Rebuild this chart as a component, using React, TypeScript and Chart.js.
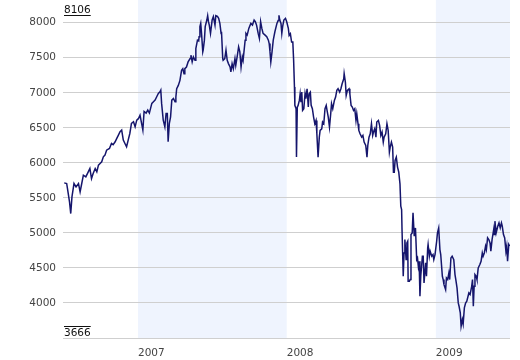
import React, { useEffect, useRef } from 'react';
import { Chart, registerables } from 'chart.js';

Chart.register(...registerables);

// Days counted from 2006-07-01
const days = [
  3, 9, 11, 16, 19, 22, 27, 32, 38, 42, 46, 50, 56, 62, 66, 70, 74, 79, 83, 87, 91, 95, 99, 103, 107, 114, 119, 123, 128, 132, 136, 140, 144, 148, 152, 156, 160, 164, 168, 173, 177, 181, 185, 189, 193, 196, 199, 204, 208, 212, 218, 222, 226, 230, 234, 238, 240, 242, 246, 250, 253, 256, 258, 261, 264, 267, 271, 275,
  277, 279, 283, 287, 291, 294, 297, 299, 303, 307, 312, 314, 317, 320, 324, 326, 330, 333, 334, 336, 338, 340, 343, 344, 347, 349, 353, 355, 357, 359, 362, 366, 369, 373, 375, 379, 382, 385, 388, 389, 392, 393, 397, 400, 403, 406, 410, 412, 415, 418, 422, 424, 428, 431, 434, 437, 440, 442, 447, 449, 452, 456, 461, 465, 469, 472, 475, 479, 482, 485, 488, 491, 496, 500, 504, 506, 508, 510, 513, 516, 520, 525, 528, 530, 532, 535, 537, 539, 542, 546, 549, 553,
  555, 558, 561, 564, 566, 568, 569, 572, 573, 575, 577, 580, 582, 584, 586, 588, 591, 594, 596, 599, 602, 604, 607, 609, 612, 615, 618, 621, 623, 626, 629, 631, 635, 637, 640, 643, 646, 648, 651, 654, 657, 659, 662, 666, 669, 672, 675, 679, 682, 685, 689, 690, 693, 695, 698, 702, 704, 707, 710, 713, 716, 719, 721, 724, 726, 729, 733, 736, 739, 743, 746, 748, 751, 754, 757, 760, 762, 765, 768, 770, 774, 777, 780, 783, 786, 788, 792, 795, 798, 801, 803, 806, 809, 811, 813, 815, 818, 821, 824,
  827, 829, 831, 832, 835, 837, 839, 842, 844, 846, 847, 850, 852, 854, 857, 859, 862, 865, 868, 870, 872, 874, 876, 878, 882, 884, 886, 890, 892, 895, 896, 899, 901, 905, 908, 910, 913, 917, 919, 922, 925, 927, 931, 933, 935, 939, 941, 944, 947, 949, 952, 955, 959, 962, 964, 967, 970, 972, 975, 977, 980, 982, 985, 988, 991, 996, 999, 1003, 1005, 1007, 1009, 1011, 1014, 1016, 1019, 1023, 1026, 1029, 1031, 1034, 1037, 1039, 1042, 1045, 1048, 1050, 1053, 1057, 1058, 1060, 1063, 1067, 1070, 1073, 1076, 1078, 1081, 1084, 1087, 1089, 1091, 1094, 1096,
];

const closes = [
  5714, 5705, 5633, 5443, 5276, 5514, 5705, 5657, 5705, 5586, 5705, 5824, 5800, 5871, 5919, 5776, 5848, 5919, 5871, 5967, 5990, 6014, 6086, 6110, 6181, 6205, 6276, 6260, 6300, 6348, 6395, 6443, 6467, 6324, 6276, 6229, 6324, 6419, 6562, 6586, 6514, 6610, 6630, 6681, 6560, 6467, 6733, 6710, 6752, 6710, 6848, 6871, 6895, 6943, 6990, 7014, 7038, 6848, 6610, 6514, 6705, 6705, 6300, 6562, 6657, 6895, 6919, 6871,
  6938, 7057, 7105, 7177, 7321, 7344, 7273, 7344, 7368, 7440, 7488, 7536, 7440, 7512, 7464, 7632, 7751, 7740, 7799, 7943, 7990, 7847, 7584, 7610, 7751, 7943, 8038, 8100, 8014, 7966, 7847, 8038, 8086, 7966, 8100, 8090, 8062, 7990, 7847, 7870, 7488, 7464, 7488, 7608, 7464, 7416, 7368, 7297, 7416, 7344, 7488, 7392, 7536, 7655, 7584, 7368, 7512, 7464, 7751, 7847, 7823, 7919, 7990, 7966, 8038, 8014, 7966, 7847, 7775, 8014, 7919, 7847, 7823, 7799, 7751, 7703, 7584, 7440, 7584, 7751, 7871, 7990, 8030, 8106, 8038, 7990, 7847, 7943, 8038, 8062, 8014, 7919,
  7819, 7843, 7724, 7724, 7462, 7081, 6820, 6772, 6082, 6796, 6820, 6891, 6986, 6867, 7010, 6748, 6772, 6986, 6915, 7057, 6796, 6986, 7010, 6820, 6772, 6653, 6558, 6605, 6415, 6082, 6367, 6463, 6486, 6582, 6558, 6772, 6820, 6748, 6653, 6510, 6701, 6843, 6772, 6891, 6938, 7034, 7057, 7010, 7057, 7129, 7200, 7272, 7153, 6962, 7034, 7057, 6986, 6820, 6796, 6748, 6772, 6605, 6701, 6558, 6463, 6415, 6367, 6391, 6296, 6248, 6082, 6248, 6367, 6415, 6558, 6391, 6439, 6486, 6367, 6582, 6605, 6534, 6391, 6439, 6296, 6367, 6415, 6558, 6463, 6153, 6225, 6296, 6225, 5867, 5867, 6034, 6082, 5939, 5867,
  5700, 5381, 5333, 5048, 4381, 4714, 4905, 4619, 4857, 4881, 4310, 4310, 4334, 4976, 5000, 5286, 4952, 5071, 4619, 4643, 4524, 4595, 4096, 4381, 4667, 4667, 4286, 4572, 4381, 4786, 4834, 4667, 4738, 4667, 4690, 4619, 4690, 4881, 5000, 5071, 4762, 4691, 4381, 4334, 4262, 4191, 4357, 4334, 4429, 4334, 4643, 4667, 4619, 4405, 4334, 4215, 4001, 3953, 3858, 3666, 3762, 3700, 3930, 4000, 4025, 4143, 4120, 4238, 4334, 3953, 4238, 4405, 4381, 4334, 4500, 4548, 4595, 4714, 4667, 4714, 4810, 4762, 4929, 4905, 4857, 4738, 4905, 5048, 4976, 5167, 5000, 5095, 5143, 5071, 5143, 5095, 4976, 4929, 4738, 4810, 4595, 4834, 4810,
];

// Year boundaries (days from 2006-07-01) and labels
const yearStarts = [184, 549, 915];
const yearLabels = ['2007', '2008', '2009'];
const yTickValues = [3500, 4000, 4500, 5000, 5500, 6000, 6500, 7000, 7500, 8000];

const FONT = 'DejaVu Sans';

const bandPlugin = {
  id: 'yearBands',
  beforeDraw(chart: any) {
    const { ctx, chartArea, scales } = chart;
    const x = scales.x;
    ctx.save();
    ctx.fillStyle = '#eff4fe';
    yearStarts.forEach((s, i) => {
      if (i % 2 !== 0) return;
      const e = i + 1 < yearStarts.length ? yearStarts[i + 1] : x.max;
      const x0 = x.getPixelForValue(s);
      const x1 = x.getPixelForValue(e);
      ctx.fillRect(x0, chartArea.top, x1 - x0, chartArea.bottom - chartArea.top);
    });
    ctx.restore();
  },
};

const extremesPlugin = {
  id: 'extremes',
  afterDraw(chart: any) {
    const { ctx, chartArea, scales } = chart;
    const y = scales.y;
    const maxV = Math.max(...closes);
    const minV = Math.min(...closes);
    ctx.save();
    ctx.font = `10.5px "${FONT}"`;
    ctx.fillStyle = '#111';
    ctx.strokeStyle = '#111';
    ctx.lineWidth = 1;
    ctx.textAlign = 'left';
    ctx.textBaseline = 'alphabetic';
    const x0 = chartArea.left + 1;
    const pMax = Math.round(y.getPixelForValue(maxV)) + 0.5;
    const tMax = String(maxV);
    const wMax = ctx.measureText(tMax).width;
    ctx.fillText(tMax, x0, pMax - 2.5);
    ctx.beginPath();
    ctx.moveTo(x0, pMax);
    ctx.lineTo(x0 + wMax, pMax);
    ctx.stroke();
    const pMin = Math.round(y.getPixelForValue(minV)) + 0.5;
    const tMin = String(minV);
    const wMin = ctx.measureText(tMin).width;
    ctx.fillText(tMin, x0, pMin + 9);
    ctx.beginPath();
    ctx.moveTo(x0, pMin);
    ctx.lineTo(x0 + wMin, pMin);
    ctx.stroke();
    ctx.restore();
  },
};

export default function App() {
  const ref = useRef<HTMLCanvasElement>(null);
  useEffect(() => {
    if (!ref.current) return;
    const chart = new Chart(ref.current, {
      type: 'line',
      data: {
        datasets: [
          {
            data: days.map((d, i) => ({ x: d, y: closes[i] })),
            borderColor: '#15156c',
            borderWidth: 1.5,
            pointRadius: 0,
            tension: 0,
            fill: false,
          },
        ],
      },
      options: {
        animation: false,
        responsive: false,
        devicePixelRatio: 1,
        layout: { padding: { left: 0, top: 0, right: 10, bottom: 0 } },
        plugins: { legend: { display: false }, tooltip: { enabled: false } },
        scales: {
          x: {
            type: 'linear',
            min: 0,
            max: 1097,
            grid: { display: false },
            border: { display: false },
            afterBuildTicks: (scale: any) => {
              scale.ticks = yearStarts.map((v) => ({ value: v }));
            },
            afterFit: (scale: any) => {
              scale.height = 22;
              scale.paddingLeft = 0;
              scale.paddingRight = 0;
            },
            ticks: {
              align: 'start',
              padding: 1,
              maxRotation: 0,
              autoSkip: false,
              color: '#444',
              font: { family: FONT, size: 10.5 },
              callback: (v: any) => {
                const i = yearStarts.indexOf(Number(v));
                return i >= 0 ? yearLabels[i] : '';
              },
            },
          },
          y: {
            type: 'linear',
            min: 3500,
            max: 8324,
            border: { display: false },
            grid: { color: '#cfcfcf', lineWidth: 1, drawTicks: false },
            afterBuildTicks: (scale: any) => {
              scale.ticks = yTickValues.map((v) => ({ value: v }));
            },
            afterFit: (scale: any) => {
              scale.width = 63;
              scale.paddingTop = 0;
              scale.paddingBottom = 0;
            },
            ticks: {
              padding: 7,
              color: '#444',
              font: { family: FONT, size: 10.5 },
              callback: (v: any) => (Number(v) === 3500 ? '' : String(v)),
            },
          },
        },
      },
      plugins: [bandPlugin, extremesPlugin],
    });
    return () => chart.destroy();
  }, []);
  return (
    <div style={{ position: 'absolute', left: 0, top: 0, width: 520, height: 360, background: '#fff' }}>
      <canvas ref={ref} width={520} height={360} style={{ display: 'block' }} />
    </div>
  );
}
